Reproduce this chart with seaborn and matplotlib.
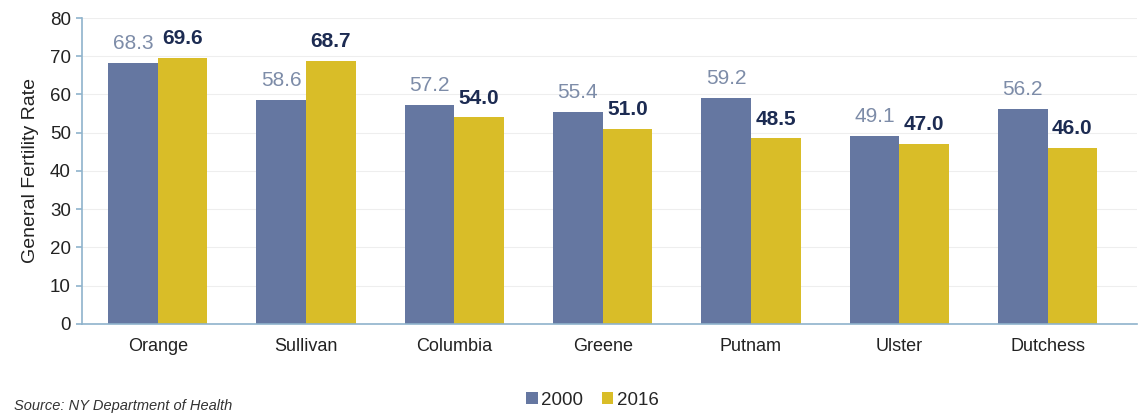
import matplotlib
matplotlib.use("Agg")
import matplotlib.pyplot as plt
import seaborn as sns
import pandas as pd

counties = ["Orange", "Sullivan", "Columbia", "Greene", "Putnam", "Ulster", "Dutchess"]
rate_2000 = [68.3, 58.6, 57.2, 55.4, 59.2, 49.1, 56.2]
rate_2016 = [69.6, 68.7, 54.0, 51.0, 48.5, 47.0, 46.0]
years = ["2000", "2016"]

df = pd.DataFrame({
    "County": counties * 2,
    "Year": [years[0]] * len(counties) + [years[1]] * len(counties),
    "Rate": rate_2000 + rate_2016,
})

sns.set_style("white")
plt.rcParams["font.family"] = ["Liberation Sans", "DejaVu Sans"]

fig = plt.figure(figsize=(11.4, 4.19), dpi=100)
ax = fig.add_axes([0.072, 0.227, 0.925, 0.73])

palette = {"2000": "#6577A1", "2016": "#D9BD28"}
sns.barplot(data=df, x="County", y="Rate", hue="Year", palette=palette,
            width=0.67, ax=ax, saturation=1, legend=True, linewidth=0,
            edgecolor="none")

ax.set_ylim(0, 80)
ax.set_xlim(-0.51, 6.6)
ax.set_yticks(range(0, 81, 10))
ax.yaxis.grid(True, color="#EEEEEE", linewidth=0.8)
ax.set_axisbelow(True)
for s in ["top", "right"]:
    ax.spines[s].set_visible(False)
for s in ["left", "bottom"]:
    ax.spines[s].set_color("#8FB3CC")
    ax.spines[s].set_linewidth(1.2)
ax.tick_params(axis="y", labelsize=13.5, labelcolor="#222222", length=4,
               width=1.2, color="#8FB3CC", direction="out", left=True, pad=4)
ax.tick_params(axis="x", labelsize=13, colors="#222222", length=0, pad=10)
ax.set_xlabel("")
ax.set_ylabel("General Fertility Rate", fontsize=14, color="#222222", labelpad=8)

label_colors = ["#7D8CA8", "#1C2B52"]
weights = ["normal", "bold"]
for i, cont in enumerate(ax.containers):
    ax.bar_label(cont, fmt="%.1f", padding=7, fontsize=15,
                 color=label_colors[i], fontweight=weights[i])

handles, labels = ax.get_legend_handles_labels()
ax.get_legend().remove()
fig.legend(handles, labels, loc="center", bbox_to_anchor=(0.52, 0.045), ncol=2,
           frameon=False, fontsize=13.5, handlelength=0.6, handleheight=0.6,
           handletextpad=0.2, columnspacing=1.0)

fig.text(0.012, 0.03, "Source: NY Department of Health", fontsize=10.5,
         style="italic", color="#333333", ha="left", va="center")

fig.savefig("out.png", dpi=100)
